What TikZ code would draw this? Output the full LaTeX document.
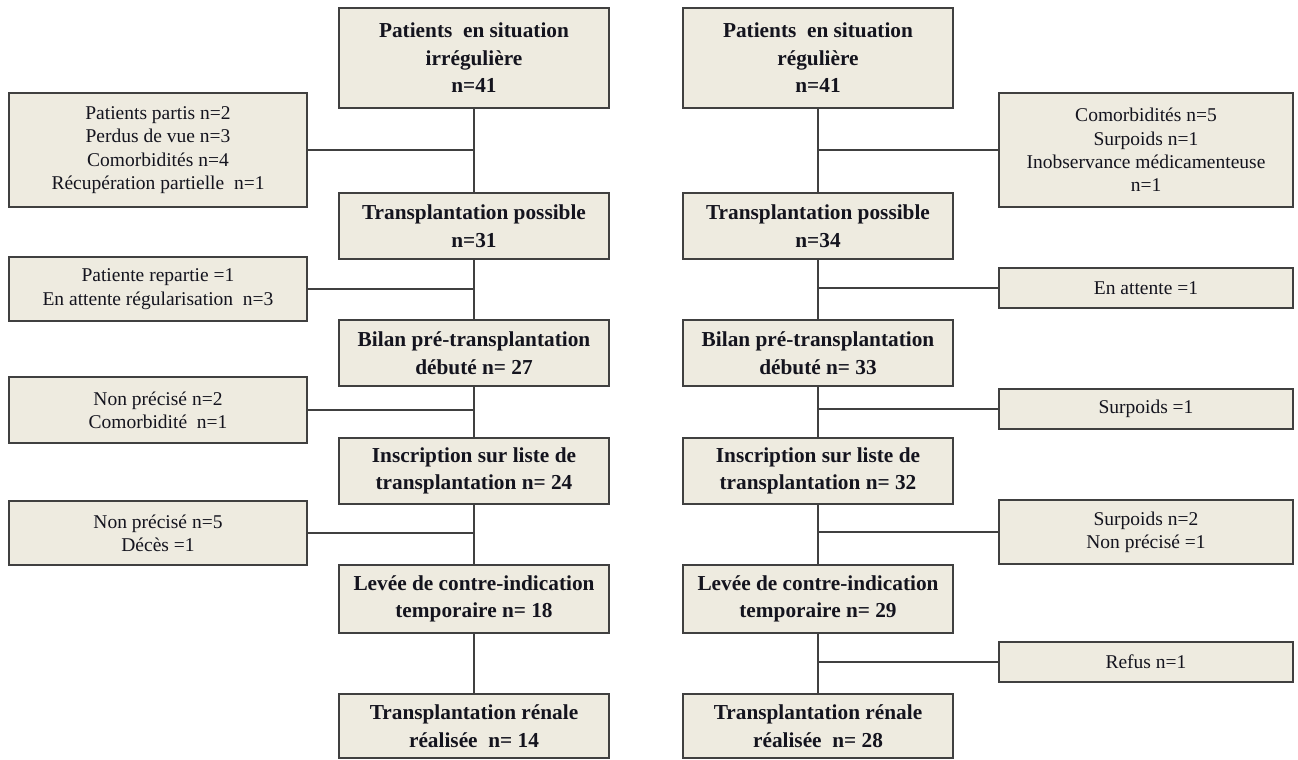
\documentclass[tikz,border=0pt]{standalone}
\usepackage{fontspec}
\setmainfont{Liberation Serif}
\definecolor{boxfill}{RGB}{238,235,224}
\definecolor{boxline}{RGB}{64,64,64}
\definecolor{txt}{RGB}{20,20,30}
\tikzset{
  mainbox/.style={draw=boxline, line width=1.8pt, fill=boxfill, minimum width=270pt, inner sep=0pt, align=center, text=txt,
    font=\fontsize{21.3}{27.5}\selectfont\bfseries},
  sidebox/.style={draw=boxline, line width=1.8pt, fill=boxfill, inner sep=0pt, align=center, text=txt,
    font=\fontsize{19.5}{23.3}\selectfont},
  lside/.style={sidebox, minimum width=298pt},
  rside/.style={sidebox, minimum width=294pt},
  conn/.style={draw=boxline, line width=1.4pt}
}
\begin{document}
\begin{tikzpicture}[x=1pt,y=-1pt]
\useasboundingbox (0,0) rectangle (1298,760);
\fill[white] (0,0) rectangle (1298,760);
% left column
\node[mainbox, minimum height=100pt] (l1) at (474,58) {Patients\ \ en situation\\irrégulière\\n=41};
\node[mainbox, minimum height=66pt] (l2) at (474,226) {Transplantation possible\\n=31};
\node[mainbox, minimum height=66pt] (l3) at (474,353) {Bilan pré-transplantation\\débuté n= 27};
\node[mainbox, minimum height=66pt] (l4) at (474,471) {Inscription sur liste de\\transplantation n= 24};
\node[mainbox, minimum height=68pt] (l5) at (474,599) {Levée de contre-indication\\temporaire n= 18};
\node[mainbox, minimum height=64pt] (l6) at (474,726) {Transplantation rénale\\réalisée\ \ n= 14};
% right column
\node[mainbox, minimum height=100pt] (r1) at (818,58) {Patients\ \ en situation\\régulière\\n=41};
\node[mainbox, minimum height=66pt] (r2) at (818,226) {Transplantation possible\\n=34};
\node[mainbox, minimum height=66pt] (r3) at (818,353) {Bilan pré-transplantation\\débuté n= 33};
\node[mainbox, minimum height=66pt] (r4) at (818,471) {Inscription sur liste de\\transplantation n= 32};
\node[mainbox, minimum height=68pt] (r5) at (818,599) {Levée de contre-indication\\temporaire n= 29};
\node[mainbox, minimum height=64pt] (r6) at (818,726) {Transplantation rénale\\réalisée\ \ n= 28};
% left side boxes
\node[lside, minimum height=114pt] (ls1) at (158,150) {Patients partis n=2\\Perdus de vue n=3\\Comorbidités n=4\\Récupération partielle\ \ n=1};
\node[lside, minimum height=64pt] (ls2) at (158,289) {Patiente repartie =1\\En attente régularisation\ \ n=3};
\node[lside, minimum height=66pt] (ls3) at (158,410) {Non précisé n=2\\Comorbidité\ \ n=1};
\node[lside, minimum height=64pt] (ls4) at (158,533) {Non précisé n=5\\Décès =1};
% right side boxes
\node[rside, minimum height=114pt] (rs1) at (1146,150) {Comorbidités n=5\\Surpoids n=1\\Inobservance médicamenteuse\\n=1};
\node[rside, minimum height=40pt] (rs2) at (1146,288) {En attente =1};
\node[rside, minimum height=40pt] (rs3) at (1146,409) {Surpoids =1};
\node[rside, minimum height=64pt] (rs4) at (1146,532) {Surpoids n=2\\Non précisé =1};
\node[rside, minimum height=40pt] (rs5) at (1146,662) {Refus n=1};
% vertical connectors
\foreach \c in {l,r}{
  \draw[conn] (\c1.south) -- (\c2.north);
  \draw[conn] (\c2.south) -- (\c3.north);
  \draw[conn] (\c3.south) -- (\c4.north);
  \draw[conn] (\c4.south) -- (\c5.north);
  \draw[conn] (\c5.south) -- (\c6.north);
}
% side connectors
\draw[conn] (ls1.east) -- (ls1.east -| l1.south);
\draw[conn] (ls2.east) -- (ls2.east -| l2.south);
\draw[conn] (ls3.east) -- (ls3.east -| l3.south);
\draw[conn] (ls4.east) -- (ls4.east -| l4.south);
\draw[conn] (rs1.west) -- (rs1.west -| r1.south);
\draw[conn] (rs2.west) -- (rs2.west -| r2.south);
\draw[conn] (rs3.west) -- (rs3.west -| r3.south);
\draw[conn] (rs4.west) -- (rs4.west -| r4.south);
\draw[conn] (rs5.west) -- (rs5.west -| r5.south);
\end{tikzpicture}
\end{document}
